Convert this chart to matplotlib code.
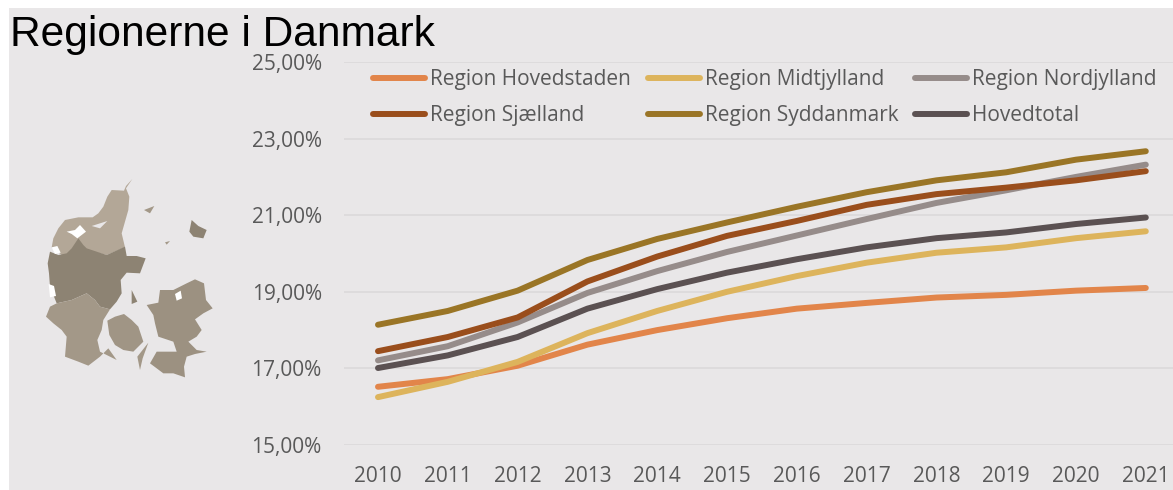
import matplotlib
matplotlib.use("Agg")
import matplotlib.pyplot as plt
from matplotlib.patches import Polygon, Rectangle
from matplotlib.ticker import FuncFormatter

years = list(range(2010, 2022))
hovedstaden = [16.52, 16.72, 17.07, 17.62, 18.00, 18.31, 18.56, 18.71, 18.85, 18.92, 19.03, 19.10]
midtjylland = [16.25, 16.65, 17.17, 17.92, 18.50, 19.00, 19.41, 19.76, 20.02, 20.16, 20.40, 20.58]
nordjylland = [17.21, 17.58, 18.20, 18.97, 19.54, 20.04, 20.47, 20.90, 21.32, 21.65, 22.00, 22.32]
sjaelland = [17.45, 17.82, 18.33, 19.27, 19.92, 20.46, 20.85, 21.27, 21.55, 21.72, 21.91, 22.15]
syddanmark = [18.14, 18.50, 19.03, 19.83, 20.38, 20.81, 21.22, 21.60, 21.91, 22.12, 22.45, 22.67]
hovedtotal = [17.01, 17.34, 17.82, 18.56, 19.07, 19.50, 19.85, 20.16, 20.40, 20.55, 20.77, 20.94]

W, H = 1173, 490
BG = "#E9E7E8"
TXT = "#595959"
FONT = "Open Sans"

fig = plt.figure(figsize=(W / 100, H / 100), dpi=100, facecolor="white")
fig.patches.append(Rectangle((9 / W, 0), 1 - 9 / W, 1 - 8 / H, transform=fig.transFigure,
                             facecolor=BG, edgecolor="none", zorder=-5))

ax = fig.add_axes([344 / W, 1 - 445 / H, (1173 - 344) / W, (445 - 62) / H])
ax.patch.set_alpha(0)
series = [
    ("Region Hovedstaden", hovedstaden, "#E2854A"),
    ("Region Midtjylland", midtjylland, "#DDB45C"),
    ("Region Nordjylland", nordjylland, "#968C8A"),
    ("Region Sjælland", sjaelland, "#9A4E1C"),
    ("Region Syddanmark", syddanmark, "#9A7526"),
    ("Hovedtotal", hovedtotal, "#5B5152"),
]
lines = {}
for name, vals, col in series:
    lines[name], = ax.plot(years, vals, color=col, lw=4.3, label=name,
                           solid_capstyle="round", solid_joinstyle="round")

ax.set_xlim(2010 - (378 - 344) / 69.8, 2010 + (1173 - 378) / 69.8)
ax.set_ylim(15, 25)
ax.set_yticks([15, 17, 19, 21, 23, 25])
ax.set_xticks(years)
ax.yaxis.set_major_formatter(FuncFormatter(lambda v, p: f"{v:.2f}".replace(".", ",") + "%"))
ax.grid(axis="y", color="#DCDADB", lw=1.3)
ax.set_axisbelow(True)
for s in ax.spines.values():
    s.set_visible(False)
ax.tick_params(length=0, labelsize=15, labelcolor=TXT)
ax.tick_params(axis="x", pad=15)
ax.tick_params(axis="y", pad=16)
for lab in ax.get_xticklabels() + ax.get_yticklabels():
    lab.set_fontfamily(FONT)

# legend is filled column by column, the reference reads row by row
order = ["Region Hovedstaden", "Region Sjælland", "Region Midtjylland",
         "Region Syddanmark", "Region Nordjylland", "Hovedtotal"]
leg = ax.legend([lines[n] for n in order], order,
                loc="upper left", bbox_to_anchor=(29 / 829, 1 - 7 / 383), ncol=3, frameon=False,
                prop={"family": FONT, "size": 15}, labelcolor=TXT, handlelength=2.5,
                handletextpad=0.24, columnspacing=0.8, labelspacing=0.72, borderpad=0, borderaxespad=0)

fig.text(10 / W, 1 - 46 / H, "Regionerne i Danmark", family="Liberation Sans", fontsize=30.6,
         color="black", va="baseline")

# decorative map of Denmark (picture in the reference), outlines in zoomed-crop pixels
m = fig.add_axes([0, 1 - 390 / H, 240 / W, 230 / H])
m.set_xlim(0, 720)
m.set_ylim(690, 0)
m.axis("off")
shapes = [
    ("#B3A797", [(397, 57), (378, 78), (372, 92), (335, 90), (322, 110), (310, 140), (295, 160), (278, 172), (235, 172), (195, 180), (175, 205), (160, 235), (155, 262), (205, 300), (260, 270), (320, 285), (375, 262), (365, 220), (385, 150), (388, 110), (378, 85)]),
    ("#8D8373", [(150, 275), (143, 310), (147, 340), (150, 380), (170, 430), (215, 420), (260, 400), (285, 420), (300, 440), (330, 448), (350, 425), (365, 400), (362, 360), (380, 338), (420, 340), (437, 295), (410, 288), (380, 288), (375, 260), (320, 285), (260, 265), (250, 255), (235, 235), (215, 265), (200, 280), (175, 285)]),
    ("#A39888", [(170, 430), (150, 440), (138, 470), (160, 490), (185, 510), (200, 530), (195, 590), (235, 605), (265, 617), (300, 590), (325, 565), (350, 600), (300, 575), (292, 540), (305, 510), (310, 480), (330, 448), (300, 440), (285, 420), (260, 400), (215, 420)]),
    ("#A09585", [(322, 482), (345, 470), (372, 462), (395, 480), (415, 500), (430, 545), (400, 575), (370, 570), (345, 555), (328, 525)]),
    ("#9C9181", [(440, 435), (475, 428), (480, 390), (520, 390), (560, 370), (585, 358), (612, 370), (618, 420), (638, 445), (610, 460), (585, 478), (605, 510), (590, 530), (565, 545), (590, 570), (620, 575), (585, 582), (560, 590), (552, 620), (555, 652), (520, 640), (490, 640), (450, 610), (470, 575), (530, 575), (520, 545), (475, 530), (465, 490), (460, 465)]),
    ("#8D8373", [(575, 180), (595, 198), (620, 210), (610, 235), (580, 230), (568, 215)]),
    ("#A39888", [(432, 150), (463, 138), (450, 160)]),
    ("#A39888", [(445, 548), (428, 595), (420, 630), (412, 590)]),
    ("#A39888", [(495, 247), (510, 243), (500, 254)]),
    ("#8D8373", [(395, 390), (412, 425), (395, 432)]),
    ("#FFFFFF", [(200, 215), (225, 210), (240, 195), (258, 215), (245, 225), (232, 235), (215, 222)]),
    ("#FFFFFF", [(155, 262), (172, 258), (182, 278), (165, 282)]),
    ("#FFFFFF", [(146, 372), (162, 378), (168, 408), (150, 412)]),
    ("#FFFFFF", [(525, 402), (542, 392), (546, 415), (530, 422)]),
    ("#E9E7E8", [(275, 198), (322, 183), (300, 205)]),
]
for col, pts in shapes:
    m.add_patch(Polygon(pts, closed=True, facecolor=col, edgecolor="none", joinstyle="round"))

fig.savefig("out.png", dpi=100, facecolor=fig.get_facecolor())
